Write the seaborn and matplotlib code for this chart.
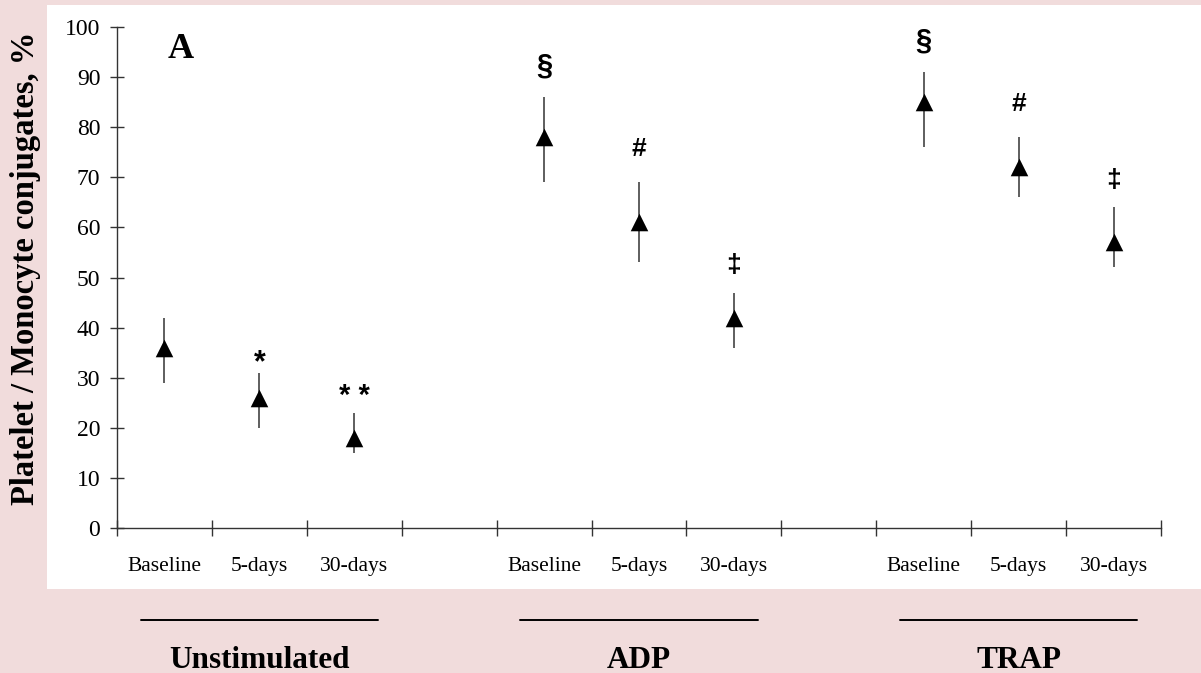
import numpy as np
import pandas as pd
import matplotlib
matplotlib.use("Agg")
import matplotlib.pyplot as plt
import matplotlib.transforms as mtransforms
from matplotlib.patches import Rectangle
import seaborn as sns

# Values (mean, upper and lower end of the error line)
groups = ['Unstimulated', 'ADP', 'TRAP']
timepoints = ['Baseline', '5-days', '30-days']
means = [36, 26, 18, 78, 61, 42, 85, 72, 57]
upper = [42, 31, 23, 86, 69, 47, 91, 78, 64]
lower = [29, 20, 15, 69, 53, 36, 76, 66, 52]
marks = ['', '*', '* *', '§', '#', '‡', '§', '#', '‡']
yticks = [0, 10, 20, 30, 40, 50, 60, 70, 80, 90, 100]

# one empty slot between the groups
slot = len(timepoints) + 1
pos = [g * slot + t for g in range(len(groups)) for t in range(len(timepoints))]
df = pd.DataFrame({
    'group': np.repeat(groups, len(timepoints)),
    'time': timepoints * len(groups),
    'pos': pos,
    'mean': means,
    'upper': upper,
    'lower': lower,
    'mark': marks,
})

sns.set_style('ticks')
plt.rcParams['font.family'] = ['Liberation Serif', 'DejaVu Serif']
plt.rcParams['text.color'] = 'black'
plt.rcParams['axes.labelcolor'] = 'black'
plt.rcParams['xtick.labelcolor'] = 'black'
plt.rcParams['ytick.labelcolor'] = 'black'

pink = '#f1dcdc'
fig = plt.figure(figsize=(12.01, 6.73), dpi=100, facecolor=pink)
# white panel behind the plot
fig.patches.append(Rectangle((47 / 1201, 1 - 589 / 673), 1 - 47 / 1201, (589 - 5) / 673,
                             transform=fig.transFigure, facecolor='white', edgecolor='none', zorder=-1))
ax = fig.add_axes([117 / 1201, 1 - 528 / 673, (1161 - 117) / 1201, (528 - 27) / 673])
ax.set_zorder(1)
ax.set_facecolor('none')

# error lines, no caps
ax.vlines(df['pos'], df['lower'], df['upper'], color='#333333', lw=1.1, zorder=2)
sns.scatterplot(data=df, x='pos', y='mean', marker='^', s=160, color='black',
                edgecolor='black', linewidth=0, ax=ax, zorder=3, legend=False)

# significance symbols above the error lines
offsets = {'*': 1, '* *': 6, '§': 17, '#': 19, '‡': 15}
sizes = {'*': 22, '* *': 21, '§': 21, '#': 19, '‡': 19}
for _, r in df.iterrows():
    if r['mark']:
        ax.annotate(r['mark'], (r['pos'], r['upper']), xytext=(0, offsets[r['mark']]),
                    textcoords='offset points', ha='center', va='baseline',
                    fontsize=sizes[r['mark']], fontfamily='Liberation Sans', fontweight='bold')

n_slots = len(groups) * slot - 1
ax.set_xlim(-0.5, n_slots - 0.5)
ax.set_ylim(0, 100)
ax.set_yticks(yticks)
ax.set_xticks(np.arange(n_slots + 1) - 0.5)
ax.set_xticklabels([])
ax.set_xticks(pos, minor=True)
ax.set_xticklabels(df['time'], minor=True, fontsize=15.5)
ax.tick_params(axis='x', which='major', direction='inout', length=12, width=1, color='#333333')
ax.tick_params(axis='x', which='minor', length=0, pad=21)
ax.tick_params(axis='y', direction='inout', length=10, width=1, color='#333333', pad=7, labelsize=17)
for s in ['top', 'right']:
    ax.spines[s].set_visible(False)
for s in ['left', 'bottom']:
    ax.spines[s].set_color('#333333')
    ax.spines[s].set_linewidth(1)
ax.set_xlabel('')
ax.set_ylabel('Platelet / Monocyte conjugates, %', fontsize=23.5, fontweight='bold')
ax.yaxis.set_label_coords(-0.073, 0.519)

ax.text(0.061, 0.955, 'A', transform=ax.transAxes, ha='center', va='center',
        fontsize=26, fontweight='bold')

# group lines and names under the axis
trans = mtransforms.blended_transform_factory(ax.transData, ax.transAxes)
for g, name in enumerate(groups):
    c = g * slot + (len(timepoints) - 1) / 2
    ax.plot([c - 1.25, c + 1.25], [-0.1836, -0.1836], color='black', lw=1.4,
            transform=trans, clip_on=False)
    ax.text(c, -0.264, name, transform=trans, ha='center', va='center',
            fontsize=22.5, fontweight='bold')

fig.savefig('out.png', dpi=100, facecolor=pink)
